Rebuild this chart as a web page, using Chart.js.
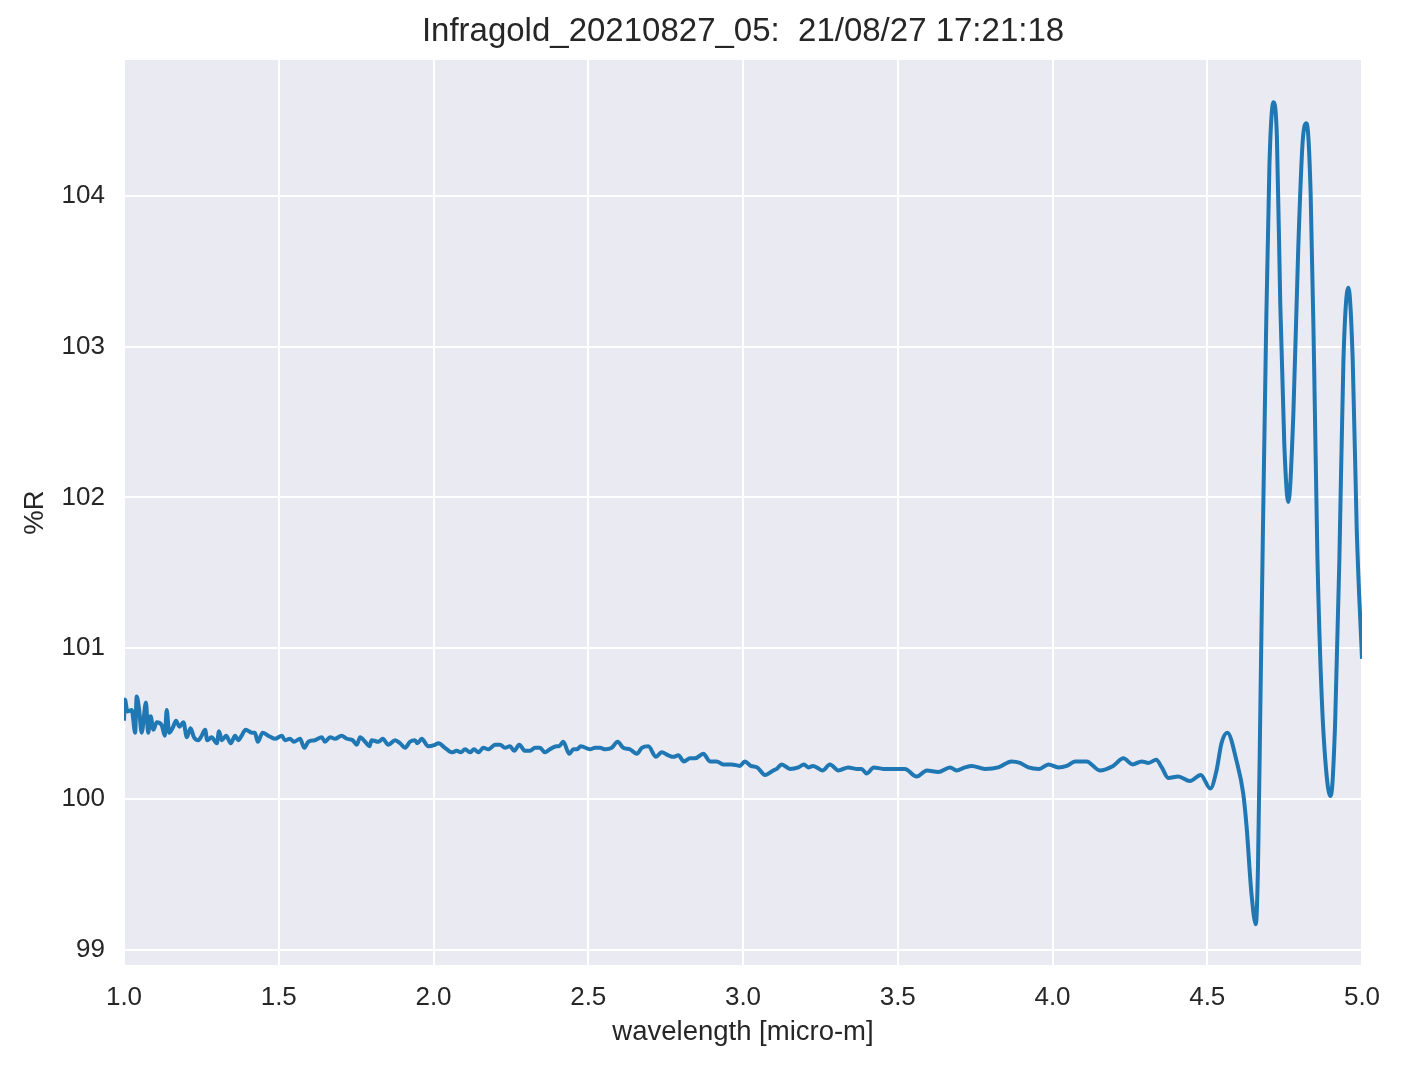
<!DOCTYPE html>
<html>
<head>
<meta charset="utf-8">
<script src="https://cdn.jsdelivr.net/npm/chart.js@4"></script>
<style>
  html, body { margin: 0; padding: 0; background: #ffffff; }
  #spectrum { display: block; }
</style>
</head>
<body>
<canvas id="spectrum" width="1402" height="1069"></canvas>
<script>
// wavelength [micro-m] and reflectance [%R]
const wavelength = [
    1.000, 1.003, 1.011, 1.025, 1.036, 1.041, 1.049, 1.057, 1.071, 1.078,
    1.086, 1.095, 1.106, 1.122, 1.132, 1.138, 1.146, 1.159, 1.168, 1.179,
    1.192, 1.203, 1.215, 1.226, 1.240, 1.251, 1.262, 1.269, 1.283, 1.300,
    1.307, 1.316, 1.330, 1.345, 1.359, 1.369, 1.380, 1.393, 1.413, 1.423,
    1.432, 1.448, 1.466, 1.488, 1.510, 1.520, 1.536, 1.549, 1.569, 1.582,
    1.596, 1.617, 1.639, 1.649, 1.666, 1.682, 1.703, 1.720, 1.739, 1.752,
    1.763, 1.779, 1.793, 1.800, 1.822, 1.836, 1.854, 1.876, 1.892, 1.908,
    1.924, 1.940, 1.948, 1.962, 1.983, 2.005, 2.016, 2.037, 2.059, 2.075,
    2.088, 2.102, 2.118, 2.131, 2.145, 2.161, 2.177, 2.199, 2.215, 2.231,
    2.247, 2.261, 2.277, 2.296, 2.312, 2.328, 2.344, 2.360, 2.376, 2.398,
    2.406, 2.419, 2.439, 2.452, 2.463, 2.476, 2.506, 2.522, 2.538, 2.555,
    2.576, 2.595, 2.613, 2.635, 2.657, 2.673, 2.694, 2.719, 2.737, 2.759,
    2.775, 2.791, 2.809, 2.829, 2.845, 2.872, 2.893, 2.915, 2.936, 2.963,
    2.990, 3.006, 3.025, 3.046, 3.071, 3.098, 3.109, 3.125, 3.152, 3.179,
    3.197, 3.211, 3.227, 3.257, 3.281, 3.308, 3.340, 3.366, 3.383, 3.399,
    3.423, 3.453, 3.486, 3.523, 3.561, 3.594, 3.631, 3.669, 3.690, 3.717,
    3.739, 3.782, 3.825, 3.868, 3.895, 3.922, 3.957, 3.987, 4.019, 4.046,
    4.073, 4.110, 4.153, 4.196, 4.229, 4.259, 4.288, 4.310, 4.335, 4.353,
    4.374, 4.406, 4.444, 4.479, 4.510, 4.530, 4.546, 4.565, 4.595, 4.616,
    4.627, 4.643, 4.657, 4.664, 4.672, 4.680, 4.690, 4.701, 4.714, 4.725,
    4.736, 4.749, 4.762, 4.778, 4.794, 4.808, 4.821, 4.834, 4.845, 4.856,
    4.870, 4.886, 4.899, 4.913, 4.927, 4.940, 4.956, 4.970, 4.983, 5.000
];
const reflectance = [
    100.52, 100.66, 100.58, 100.59, 100.44, 100.68, 100.59, 100.44, 100.64, 100.44,
    100.55, 100.46, 100.51, 100.49, 100.42, 100.59, 100.44, 100.48, 100.52, 100.48,
    100.51, 100.41, 100.47, 100.41, 100.39, 100.42, 100.46, 100.39, 100.41, 100.37,
    100.45, 100.39, 100.42, 100.37, 100.42, 100.39, 100.42, 100.46, 100.44, 100.44,
    100.38, 100.44, 100.42, 100.40, 100.42, 100.39, 100.40, 100.38, 100.40, 100.34,
    100.38, 100.39, 100.41, 100.38, 100.41, 100.40, 100.42, 100.40, 100.39, 100.36,
    100.41, 100.38, 100.35, 100.39, 100.38, 100.40, 100.36, 100.39, 100.37, 100.34,
    100.38, 100.39, 100.37, 100.40, 100.35, 100.36, 100.37, 100.34, 100.31, 100.32,
    100.31, 100.33, 100.31, 100.33, 100.31, 100.34, 100.33, 100.36, 100.36, 100.34,
    100.35, 100.32, 100.36, 100.32, 100.32, 100.34, 100.34, 100.31, 100.33, 100.35,
    100.35, 100.38, 100.30, 100.33, 100.33, 100.35, 100.33, 100.34, 100.34, 100.33,
    100.34, 100.38, 100.34, 100.33, 100.30, 100.34, 100.35, 100.28, 100.31, 100.29,
    100.28, 100.29, 100.25, 100.27, 100.27, 100.30, 100.25, 100.25, 100.23, 100.23,
    100.22, 100.25, 100.22, 100.21, 100.16, 100.19, 100.20, 100.23, 100.20, 100.21,
    100.23, 100.21, 100.22, 100.19, 100.23, 100.19, 100.21, 100.20, 100.20, 100.17,
    100.21, 100.20, 100.20, 100.20, 100.15, 100.19, 100.18, 100.21, 100.19, 100.21,
    100.22, 100.20, 100.21, 100.25, 100.24, 100.21, 100.20, 100.23, 100.21, 100.22,
    100.25, 100.25, 100.19, 100.22, 100.27, 100.23, 100.25, 100.24, 100.26, 100.21,
    100.14, 100.15, 100.12, 100.16, 100.07, 100.19, 100.37, 100.44, 100.25, 100.04,
    99.82, 99.37, 99.17, 99.56, 100.67, 101.79, 103.09, 104.21, 104.62, 104.39,
    103.28, 102.35, 101.97, 102.54, 103.65, 104.35, 104.48, 104.02, 102.91, 101.60,
    100.67, 100.15, 100.02, 100.49, 101.60, 102.91, 103.39, 102.91, 101.79, 100.93
];
const xTicks = [1.0, 1.5, 2.0, 2.5, 3.0, 3.5, 4.0, 4.5, 5.0];
const yTicks = [99, 100, 101, 102, 103, 104];

const FONT = "'Liberation Sans', Arial, 'DejaVu Sans', sans-serif";
const TEXT_COLOR = '#262626';

// seaborn-style grey plot background
const plotBackground = {
    id: 'plotBackground',
    beforeDraw(chart) {
        const {ctx, chartArea} = chart;
        ctx.save();
        ctx.fillStyle = '#eaeaf2';
        ctx.fillRect(chartArea.left, chartArea.top, chartArea.right - chartArea.left, chartArea.bottom - chartArea.top);
        ctx.restore();
    }
};

const points = wavelength.map((w, i) => ({x: w, y: reflectance[i]}));

const ctx = document.getElementById('spectrum').getContext('2d');
new Chart(ctx, {
    type: 'line',
    data: {
        datasets: [{
            label: '%R',
            data: points,
            borderColor: '#1f77b4',
            borderWidth: 4,
            pointRadius: 0,
            fill: false,
            cubicInterpolationMode: 'monotone'
        }]
    },
    options: {
        responsive: false,
        animation: false,
        devicePixelRatio: 1,
        layout: {
            padding: {left: 0, right: 40, top: 0, bottom: 0}
        },
        plugins: {
            legend: {display: false},
            tooltip: {enabled: false},
            title: {
                display: true,
                text: 'Infragold_20210827_05:  21/08/27 17:21:18',
                color: TEXT_COLOR,
                fullSize: false,
                font: {family: FONT, size: 33, weight: 'normal'},
                padding: {top: 12.5, bottom: 7.9}
            }
        },
        scales: {
            x: {
                type: 'linear',
                min: 1.0,
                max: 5.0,
                afterBuildTicks: (scale) => {
                    scale.ticks = xTicks.map(v => ({value: v}));
                },
                afterFit: (scale) => { scale.height = 104; },
                grid: {color: '#ffffff', lineWidth: 2, drawTicks: false},
                border: {display: false},
                ticks: {
                    color: TEXT_COLOR,
                    padding: 17,
                    font: {family: FONT, size: 26},
                    callback: (v) => Number(v).toFixed(1)
                },
                title: {
                    display: true,
                    text: 'wavelength [micro-m]',
                    color: TEXT_COLOR,
                    font: {family: FONT, size: 27.5},
                    padding: {top: 0, bottom: 20}
                }
            },
            y: {
                type: 'linear',
                min: 98.9,
                max: 104.9,
                afterBuildTicks: (scale) => {
                    scale.ticks = yTicks.map(v => ({value: v}));
                },
                afterFit: (scale) => { scale.width = 124; },
                grid: {color: '#ffffff', lineWidth: 2, drawTicks: false},
                border: {display: false},
                ticks: {
                    color: TEXT_COLOR,
                    padding: 19,
                    font: {family: FONT, size: 26},
                    callback: (v) => String(v)
                },
                title: {
                    display: true,
                    text: '%R',
                    color: TEXT_COLOR,
                    font: {family: FONT, size: 27.5},
                    padding: {top: 19, bottom: 0}
                }
            }
        }
    },
    plugins: [plotBackground]
});
</script>
</body>
</html>
